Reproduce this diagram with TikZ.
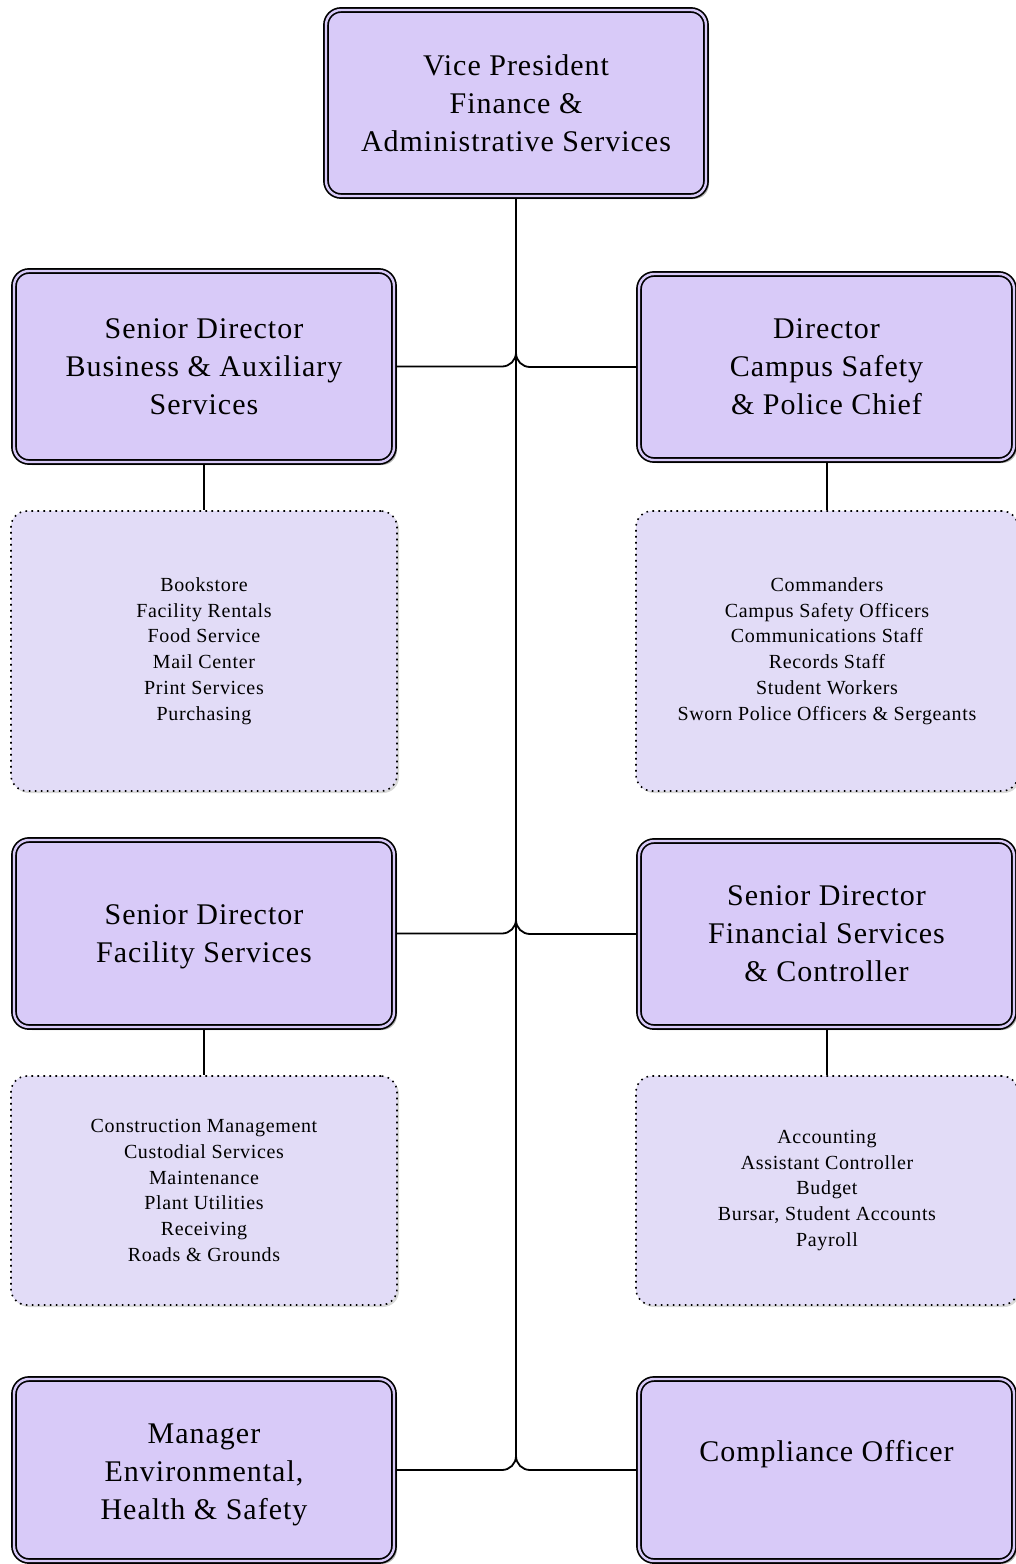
\documentclass[tikz,border=0pt]{standalone}
\usepackage{fontspec}
\setmainfont{Liberation Serif}[LetterSpace=3.3]
\usetikzlibrary{shadows,backgrounds}
\definecolor{mfill}{RGB}{216,202,248}
\definecolor{sfill}{RGB}{226,220,247}
\tikzset{
  mgr/.style={draw=black, line width=1.7pt, double=mfill, double distance=2.4pt,
    fill=mfill, rounded corners=15pt, inner sep=0pt, align=center,
    font=\fontsize{30}{38}\selectfont,
    drop shadow={shadow xshift=3pt, shadow yshift=-3pt, fill=black, opacity=0.3}},
  sub/.style={draw=black, line width=1.6pt, dash pattern=on 1.6pt off 4.4pt,
    fill=sfill, rounded corners=16pt, inner sep=0pt, align=center,
    minimum width=386pt, font=\fontsize{20}{25.7}\selectfont,
    drop shadow={shadow xshift=2pt, shadow yshift=-2pt, fill=black, opacity=0.15}},
  conn/.style={draw=black, line width=1.8pt, rounded corners=14pt}
}
\begin{document}
\begin{tikzpicture}[x=1pt,y=-1pt]
\useasboundingbox (0,0) rectangle (1015,1564);
% managers
\node[mgr, minimum width=380pt, minimum height=186pt] (vp) at (516,103)
  {Vice President\\Finance \&\\Administrative Services};
\node[mgr, minimum width=380pt, minimum height=191pt] (l1) at (204,366.5)
  {Senior Director\\Business \& Auxiliary\\Services};
\node[mgr, minimum width=375pt, minimum height=186pt] (r1) at (826.5,367)
  {Director\\Campus Safety\\\& Police Chief};
\node[mgr, minimum width=380pt, minimum height=187pt] (l2) at (204,933.5)
  {\rule{0pt}{27pt}Senior Director\\Facility Services};
\node[mgr, minimum width=375pt, minimum height=186pt] (r2) at (826.5,934)
  {Senior Director\\Financial Services\\\& Controller};
\node[mgr, minimum width=380pt, minimum height=182pt] (l3) at (204,1470)
  {\rule{0pt}{29pt}Manager\\Environmental,\\Health \& Safety};
\node[mgr, minimum width=375pt, minimum height=182pt] (r3) at (826.5,1470)
  {Compliance Officer\\\mbox{}};
% sub units
\node[sub, minimum height=280pt] (s1) at (204,651)
  {Bookstore\\Facility Rentals\\Food Service\\Mail Center\\Print Services\\Purchasing};
\node[sub, minimum width=382pt, minimum height=280pt] (s2) at (827,651)
  {Commanders\\Campus Safety Officers\\Communications Staff\\Records Staff\\Student Workers\\Sworn Police Officers \& Sergeants};
\node[sub, minimum height=229pt] (s3) at (204,1190.5)
  {Construction Management\\Custodial Services\\Maintenance\\Plant Utilities\\Receiving\\Roads \& Grounds};
\node[sub, minimum width=382pt, minimum height=229pt] (s4) at (827,1190.5)
  {Accounting\\Assistant Controller\\Budget\\Bursar, Student Accounts\\Payroll};
% connectors
\begin{scope}[on background layer]
\draw[conn] (vp.south) |- (l1.east);
\draw[conn] (vp.south) |- (r1.west);
\draw[conn] (vp.south) |- (l2.east);
\draw[conn] (vp.south) |- (r2.west);
\draw[conn] (vp.south) |- (l3.east);
\draw[conn] (vp.south) |- (r3.west);
\draw[conn] (l1.south) -- (s1.north);
\draw[conn] (r1.south -| s2.north) -- (s2.north);
\draw[conn] (l2.south) -- (s3.north);
\draw[conn] (r2.south -| s4.north) -- (s4.north);
\end{scope}
\end{tikzpicture}
\end{document}
